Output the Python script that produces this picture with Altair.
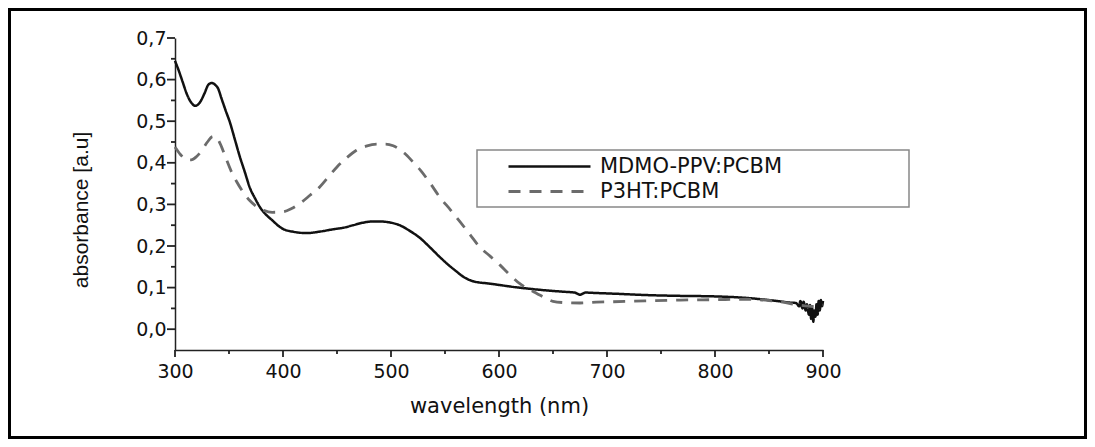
import altair as alt
import pandas as pd

series_names = ["MDMO-PPV:PCBM", "P3HT:PCBM"]

wl_mdmo = [300, 303, 307, 311, 315, 319, 323, 327, 331, 334, 337, 340, 343, 347, 351, 355,
           360, 365, 369, 374, 379, 384, 390, 395, 400, 410, 422, 435, 446, 456, 465, 474,
           483, 490, 498, 508, 517, 527, 536, 545, 553, 561, 567, 573, 580, 590, 601, 615,
           629, 645, 660, 670, 675, 680, 690, 710, 737, 770, 798, 830, 850, 860, 869, 875,
           878, 879, 881, 882, 884, 885, 887, 888, 889, 890, 891, 892, 893, 894, 895, 896,
           897, 898, 899, 900]
abs_mdmo = [0.645, 0.625, 0.595, 0.565, 0.545, 0.537, 0.545, 0.565, 0.588, 0.592, 0.588, 0.578,
            0.555, 0.525, 0.496, 0.460, 0.415, 0.375, 0.342, 0.315, 0.292, 0.276, 0.262, 0.250,
            0.241, 0.234, 0.231, 0.235, 0.240, 0.244, 0.250, 0.256, 0.259, 0.259, 0.257, 0.250,
            0.237, 0.219, 0.197, 0.174, 0.155, 0.138, 0.126, 0.118, 0.113, 0.110, 0.106, 0.101,
            0.097, 0.093, 0.090, 0.088, 0.083, 0.088, 0.087, 0.085, 0.082, 0.080, 0.079, 0.075,
            0.070, 0.067, 0.064, 0.063, 0.055, 0.068, 0.050, 0.066, 0.045, 0.060, 0.035, 0.058,
            0.025, 0.050, 0.018, 0.045, 0.030, 0.060, 0.035, 0.068, 0.045, 0.070, 0.055, 0.068]

wl_p3ht = [300, 305, 310, 315, 320, 325, 330, 335, 338, 342, 347, 352, 357, 363, 369, 375,
           382, 390, 400, 408, 416, 425, 434, 442, 450, 459, 468, 477, 487, 495, 502, 508,
           515, 521, 527, 536, 545, 555, 564, 573, 582, 592, 601, 610, 619, 627, 635, 643,
           650, 660, 675, 690, 706, 735, 768, 800, 829, 850, 860, 878, 890, 900]
abs_p3ht = [0.438, 0.420, 0.408, 0.407, 0.415, 0.430, 0.450, 0.463, 0.462, 0.445, 0.412, 0.380,
            0.355, 0.330, 0.310, 0.296, 0.286, 0.281, 0.282, 0.290, 0.303, 0.322, 0.342, 0.366,
            0.390, 0.412, 0.430, 0.440, 0.445, 0.445, 0.441, 0.432, 0.417, 0.400, 0.383, 0.352,
            0.318, 0.287, 0.258, 0.228, 0.198, 0.175, 0.154, 0.131, 0.110, 0.097, 0.086, 0.075,
            0.067, 0.064, 0.063, 0.065, 0.066, 0.068, 0.070, 0.071, 0.072, 0.069, 0.066, 0.058,
            0.055, 0.058]

x_major = [300, 400, 500, 600, 700, 800, 900]
x_minor = [350, 450, 550, 650, 750, 850]
y_major = [0.0, 0.1, 0.2, 0.3, 0.4, 0.5, 0.6, 0.7]
y_minor = [0.05, 0.15, 0.25, 0.35, 0.45, 0.55, 0.65]

df = pd.concat([
    pd.DataFrame({"wl": wl_mdmo, "abs": abs_mdmo, "series": series_names[0]}),
    pd.DataFrame({"wl": wl_p3ht, "abs": abs_p3ht, "series": series_names[1]}),
])

W, H = 648, 312
PAD = {"left": 167, "top": 30, "right": 264, "bottom": 89}
AX = "#222222"
TXT = "#111111"

x_scale = alt.Scale(domain=[300, 900], nice=False, zero=False)
y_scale = alt.Scale(domain=[-0.05, 0.7], nice=False, zero=False)

legend = alt.Legend(
    title=None, orient="none", legendX=302, legendY=112, direction="vertical",
    symbolType="M-4.1,0H4.1", symbolSize=400, symbolStrokeWidth=1.8,
    symbolOffset=56, labelOffset=39, labelFont="DejaVu Sans", labelFontSize=21,
    labelColor=TXT, labelLimit=1000,
    padding=5, rowPadding=3, strokeColor="transparent", fillColor="transparent",
)

x_axis = alt.Axis(
    orient="bottom", values=x_major, ticks=True, tickSize=6, tickOpacity=0,
    labelFont="DejaVu Sans", labelFontSize=19, labelColor=TXT, labelPadding=6,
    labelFlush=False, labelOverlap=False,
    domainColor=AX, domainWidth=1.5, grid=False,
    title="wavelength (nm)", titleFont="DejaVu Sans", titleFontSize=21, titleFontWeight="normal",
    titleColor=TXT, titleX=W / 2, titleY=62, titleBaseline="alphabetic", titleAlign="center",
)

y_axis = alt.Axis(
    orient="left", values=y_major, ticks=True, tickSize=7, tickOpacity=0,
    labelExpr="replace(format(datum.value, '.1f'), '.', ',')",
    labelFont="DejaVu Sans", labelFontSize=19, labelColor=TXT, labelPadding=2,
    labelFlush=False, labelOverlap=False,
    domainColor=AX, domainWidth=1.5, grid=False,
    title="absorbance [a.u]", titleFont="Liberation Sans", titleFontSize=21, titleFontWeight="normal",
    titleColor=TXT, titleX=-88, titleY=171.5, titleAngle=270,
    titleBaseline="alphabetic", titleAlign="center",
)

lines = alt.Chart(df).mark_line(interpolate="monotone").encode(
    x=alt.X("wl:Q", scale=x_scale, axis=x_axis),
    y=alt.Y("abs:Q", scale=y_scale, axis=y_axis),
    color=alt.Color("series:N", scale=alt.Scale(domain=series_names, range=["#111111", "#6b6b6b"]),
                    legend=legend),
    strokeDash=alt.StrokeDash("series:N", scale=alt.Scale(domain=series_names, range=[[1, 0], [12, 9]]),
                              legend=legend),
    strokeWidth=alt.StrokeWidth("series:N", scale=alt.Scale(domain=series_names, range=[2.5, 2.8]),
                                legend=None),
    order=alt.Order("wl:Q"),
)


def x_ticks(vals, length):
    return alt.Chart(pd.DataFrame({"tx": vals})).mark_rule(color=AX, strokeWidth=1.8).encode(
        x=alt.X("tx:Q", scale=x_scale, axis=None),
        y=alt.value(H), y2=alt.value(H + length),
    )


def y_ticks(vals, length):
    return alt.Chart(pd.DataFrame({"ty": vals})).mark_rule(color=AX, strokeWidth=1.8).encode(
        y=alt.Y("ty:Q", scale=y_scale, axis=None),
        x=alt.value(0), x2=alt.value(-length),
    )


frame = alt.Chart(pd.DataFrame({"k": [0]})).mark_rect(
    fill="transparent", stroke="black", strokeWidth=3
).encode(
    x=alt.value(-PAD["left"] + 1.5), x2=alt.value(W + PAD["right"] - 1.5),
    y=alt.value(-PAD["top"] + 1.5), y2=alt.value(H + PAD["bottom"] - 1.5),
)

legend_box = alt.Chart(pd.DataFrame({"k": [0]})).mark_rect(
    fill="white", stroke="#888888", strokeWidth=1.5
).encode(
    x=alt.value(302), x2=alt.value(734), y=alt.value(112), y2=alt.value(169),
)

chart = alt.layer(
    legend_box, lines,
    x_ticks(x_major, 7), x_ticks(x_minor, 4), y_ticks(y_major, 8), y_ticks(y_minor, 4),
    frame,
).resolve_axis(
    x="independent", y="independent"
).properties(
    width=W, height=H, padding=PAD, autosize=alt.AutoSizeParams(type="none"),
    background="white",
).configure_view(strokeWidth=0)

chart.save("out.html", embed_options={"renderer": "svg", "actions": False})
